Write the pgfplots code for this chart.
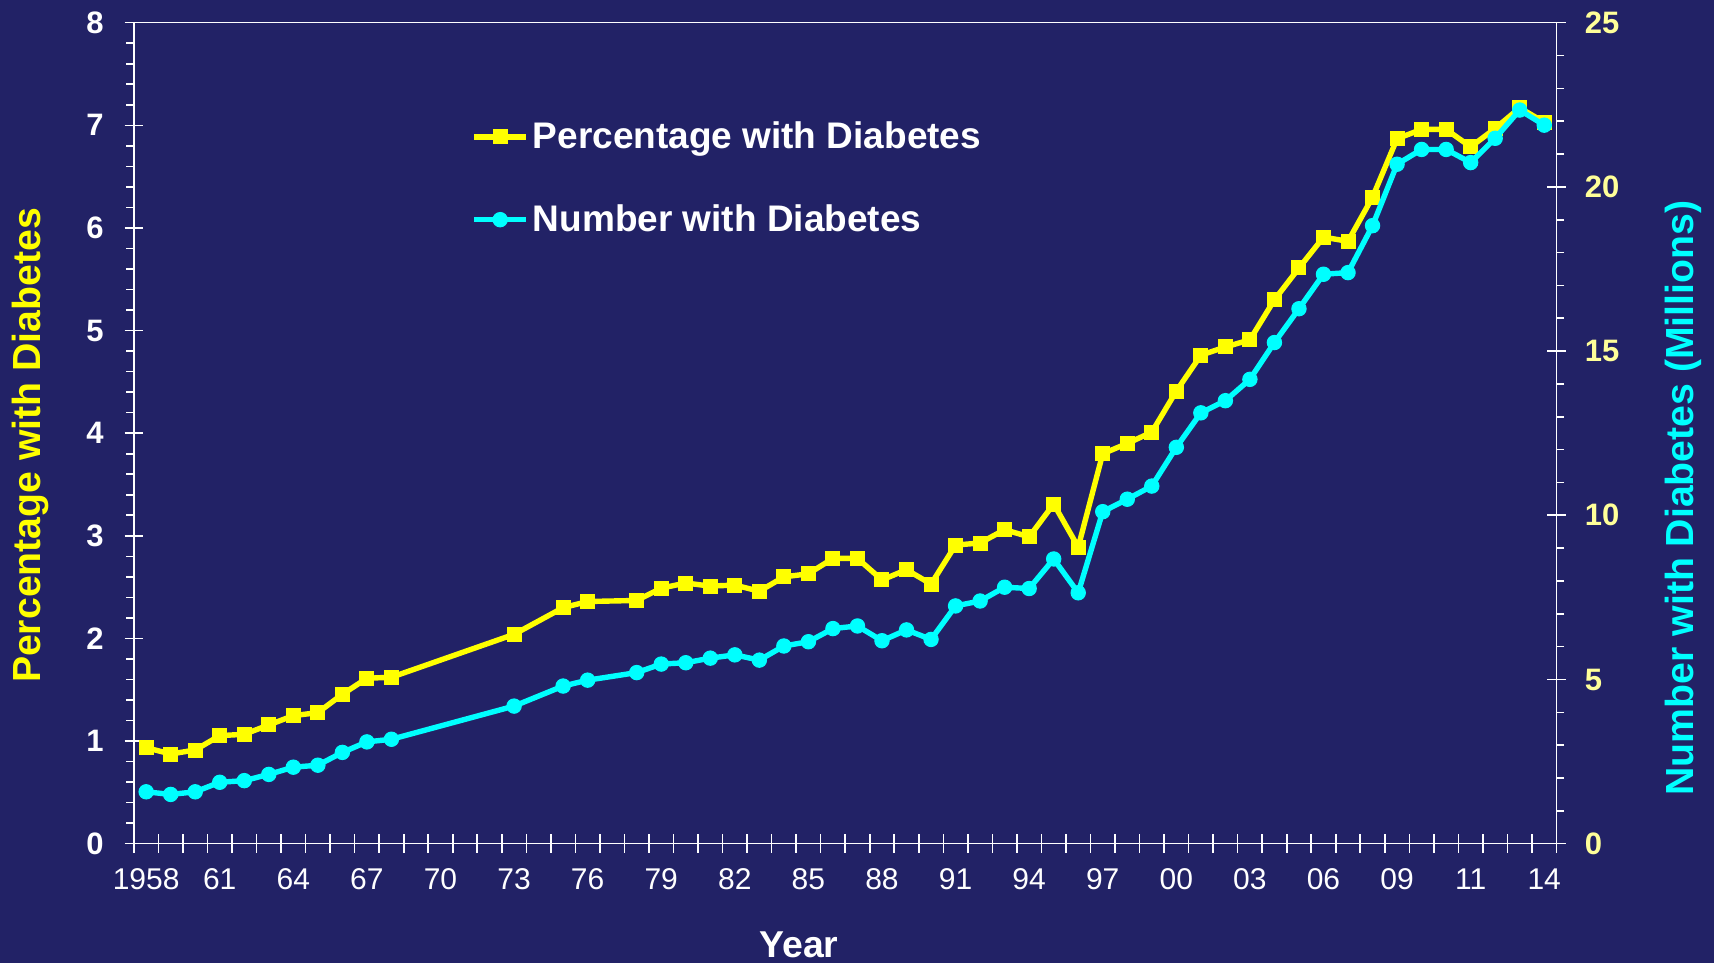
\documentclass[border=0pt]{standalone}
\usepackage{pgfplots}
\pgfplotsset{compat=1.18}
\usepackage{pgfplotstable}
\usepackage{fontspec}
\setmainfont{Liberation Sans}
\definecolor{bgc}{RGB}{34,34,102}
\definecolor{ylw}{RGB}{255,255,0}
\definecolor{cyn}{RGB}{0,255,255}
\definecolor{paleylw}{RGB}{255,255,153}

\pgfplotstableread{
x pct
0 0.936
1 0.874
2 0.913
3 1.053
4 1.066
5 1.157
6 1.248
7 1.277
8 1.456
9 1.612
10 1.622
15 2.04
17 2.30
18 2.36
20 2.37
21 2.49
22 2.54
23 2.51
24 2.52
25 2.46
26 2.60
27 2.63
28 2.78
29 2.78
30 2.57
31 2.67
32 2.53
33 2.91
34 2.93
35 3.06
36 2.99
37 3.31
38 2.89
39 3.80
40 3.90
41 4.01
42 4.41
43 4.76
44 4.84
45 4.91
46 5.30
47 5.61
48 5.91
49 5.87
50 6.30
51 6.87
52 6.96
53 6.96
54 6.79
55 6.97
56 7.17
57 7.03
}\pcttable

\pgfplotstableread{
x num
0 1.58
1 1.50
2 1.58
3 1.87
4 1.92
5 2.11
6 2.33
7 2.39
8 2.78
9 3.10
10 3.18
15 4.19
17 4.80
18 4.98
20 5.21
21 5.47
22 5.51
23 5.65
24 5.75
25 5.59
26 6.02
27 6.15
28 6.55
29 6.63
30 6.18
31 6.51
32 6.22
33 7.24
34 7.39
35 7.81
36 7.77
37 8.67
38 7.64
39 10.11
40 10.49
41 10.89
42 12.07
43 13.12
44 13.49
45 14.14
46 15.26
47 16.29
48 17.34
49 17.39
50 18.82
51 20.69
52 21.14
53 21.14
54 20.74
55 21.48
56 22.34
57 21.88
}\numtable

\begin{document}
\begin{tikzpicture}
\fill[bgc] (-66.95pt,-59.65pt) rectangle (790.05pt,421.85pt);
\begin{axis}[
  at={(0pt,0pt)}, anchor=south west,
  scale only axis, width=711.3pt, height=410.5pt,
  xmin=-0.5, xmax=57.5, ymin=0, ymax=8,
  axis line style={white, line width=0.8pt},
  tick style={white, line width=0.8pt},
  tick align=center,
  major tick length=9.2pt,
  minor tick length=3.8pt,
  minor y tick style={xshift=-1.9pt},
  xtick pos=bottom, ytick pos=left,
  xtick={-0.5,0.5,...,57.5}, xticklabels={},
  extra x ticks={0,3,...,57},
  extra x tick labels={1958,61,64,67,70,73,76,79,82,85,88,91,94,97,00,03,06,09,11,14},
  extra x tick style={major tick length=0pt},
  ytick={0,1,...,8}, minor y tick num=4,
  /pgf/number format/assume math mode=true,
  yticklabel style={font=\bfseries\fontsize{15.5}{18}\selectfont, text=white, xshift=-7pt},
  xticklabel style={font=\fontsize{15}{18}\selectfont, text=white, yshift=-9pt},
  xlabel={Year},
  xlabel style={at={(axis description cs:0.4675,-0.1227)}, anchor=center, font=\bfseries\fontsize{18.7}{22}\selectfont, text=white},
  ylabel={Percentage with Diabetes},
  ylabel style={at={(axis description cs:-0.0726,0.485)}, anchor=center, font=\bfseries\fontsize{19.6}{23}\selectfont, text=ylw},
  legend style={at={(axis description cs:0.2370,0.8105)}, anchor=west, draw=none, fill=none, inner sep=0pt, text=white,
    font=\bfseries\fontsize{18.5}{22}\selectfont, row sep=22.5pt,
    /tikz/every even column/.append style={column sep=0pt}},
  legend cell align=left,
  legend image code/.code={\draw[mark repeat=2,mark phase=2,#1] plot coordinates {(0pt,0pt) (13pt,0pt) (26pt,0pt)};},
]
\addplot[ylw, line width=2.7pt, mark=square*, mark size=3.5pt, mark options={solid, fill=ylw, draw=ylw, line width=0.5pt}] table[x=x, y=pct] {\pcttable};
\addlegendentry{Percentage with Diabetes}
\addlegendimage{cyn, line width=2.7pt, mark=*, mark size=3.6pt, mark options={solid, fill=cyn, draw=cyn, line width=0.5pt}}
\addlegendentry{Number with Diabetes}
\end{axis}
\begin{axis}[
  at={(0pt,0pt)}, anchor=south west,
  scale only axis, width=711.3pt, height=410.5pt,
  xmin=-0.5, xmax=57.5, ymin=0, ymax=25,
  axis x line=none, axis y line*=right,
  axis line style={white, line width=0.8pt},
  tick style={white, line width=0.8pt},
  tick align=center,
  major tick length=9.2pt,
  minor tick length=3.8pt,
  minor y tick style={xshift=1.9pt},
  ytick={0,5,...,25}, minor y tick num=4,
  /pgf/number format/assume math mode=true,
  yticklabel style={font=\bfseries\fontsize{15.5}{18}\selectfont, text=paleylw, xshift=6pt},
  ylabel={Number with Diabetes (Millions)},
  ylabel style={at={(axis description cs:1.0893,0.421)}, anchor=center, font=\bfseries\fontsize{19.6}{23}\selectfont, text=cyn},
]
\addplot[cyn, line width=2.7pt, mark=*, mark size=3.6pt, mark options={solid, fill=cyn, draw=cyn, line width=0.5pt}] table[x=x, y=num] {\numtable};
\end{axis}
\pgfresetboundingbox
\useasboundingbox (-66.95pt,-59.65pt) rectangle (790.05pt,421.85pt);
\end{tikzpicture}
\end{document}
